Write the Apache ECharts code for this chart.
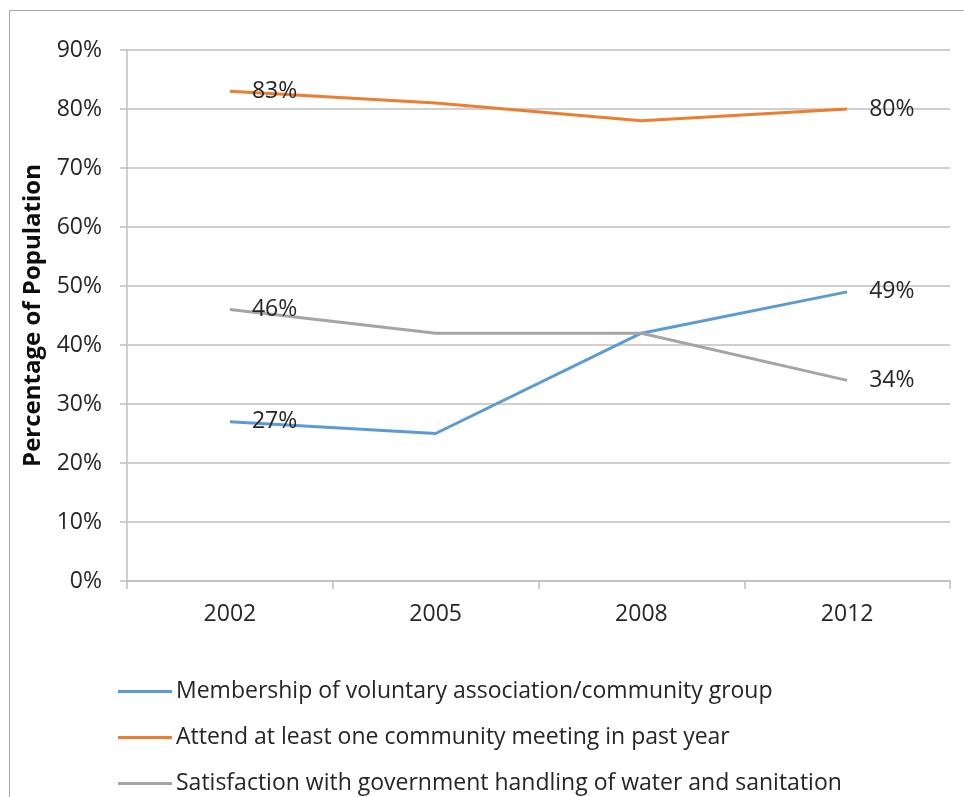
<!DOCTYPE html>
<html><head><meta charset="utf-8">
<script src="https://cdn.jsdelivr.net/npm/echarts@6/dist/echarts.min.js"></script>
<style>html,body{margin:0;padding:0;background:#fff}#c{width:964px;height:797px}</style>
</head><body><div id="c"></div>
<script>
const categories = ['2002', '2005', '2008', '2012'];
const membership = [27, 25, 42, 49];
const attend = [83, 81, 78, 80];
const satisfaction = [46, 42, 42, 34];
const seriesNames = [
  'Membership of voluntary association/community group',
  'Attend at least one community meeting in past year',
  'Satisfaction with government handling of water and sanitation'
];
const yTicks = [0, 10, 20, 30, 40, 50, 60, 70, 80, 90];

const FONT = 'Open Sans';
const FS = 23;
const chart = echarts.init(document.getElementById('c'), null, {renderer: 'canvas'});
function mk(name, data, color) {
  const n = data.length;
  return {
    name, type: 'line', symbol: 'circle', symbolSize: 0.1, showSymbol: true,
    data: data.map((v, i) => ({
      value: v,
      label: {show: i === 0 || i === n - 1}
    })),
    lineStyle: {color, width: 3}, itemStyle: {color},
    label: {
      position: 'right', distance: 22,
      fontFamily: FONT, fontSize: FS, color: '#262626',
      formatter: p => p.value + '%'
    },
    labelLayout: {hideOverlap: false},
    emphasis: {disabled: true},
    z: 3
  };
}
chart.setOption({
  animation: false,
  graphic: [{type: 'rect', shape: {x: 9.5, y: 10.5, width: 980, height: 800},
    style: {fill: 'none', stroke: '#a6a6a6', lineWidth: 1}, z: -1}],
  grid: {left: 127, right: 14, top: 50, bottom: 216, containLabel: false},
  legend: {
    orient: 'vertical', left: 113, top: 675, height: 300, itemGap: 23, itemWidth: 54, itemHeight: 3,
    icon: 'rect',
    textStyle: {fontFamily: FONT, fontSize: FS, lineHeight: 23, color: '#262626', padding: [0, 0, 0, -1]},
    data: seriesNames
  },
  xAxis: {
    type: 'category', data: categories, boundaryGap: true,
    axisLine: {lineStyle: {color: '#bfbfbf', width: 1.5}},
    axisTick: {show: true, length: 8, lineStyle: {color: '#bfbfbf', width: 1.5}},
    axisLabel: {fontFamily: FONT, fontSize: FS, color: '#262626', margin: 22}
  },
  yAxis: {
    type: 'value', min: 0, max: 90, interval: 10,
    name: 'Percentage of Population', nameLocation: 'middle', nameGap: 82, nameRotate: 90,
    nameTextStyle: {fontFamily: FONT, fontSize: 24, fontWeight: 'bold', color: '#0d0d0d'},
    axisLine: {show: true, lineStyle: {color: '#bfbfbf', width: 1.5}},
    axisTick: {show: true, length: 7, lineStyle: {color: '#bfbfbf', width: 1.5}},
    splitLine: {lineStyle: {color: '#bfbfbf', width: 1.5}},
    axisLabel: {fontFamily: FONT, fontSize: FS, color: '#262626', margin: 25,
      formatter: v => yTicks.includes(v) ? v + '%' : ''}
  },
  series: [
    mk(seriesNames[0], membership, '#5b9bd5'),
    mk(seriesNames[1], attend, '#ed7d31'),
    mk(seriesNames[2], satisfaction, '#a5a5a5')
  ]
});
</script></body></html>
